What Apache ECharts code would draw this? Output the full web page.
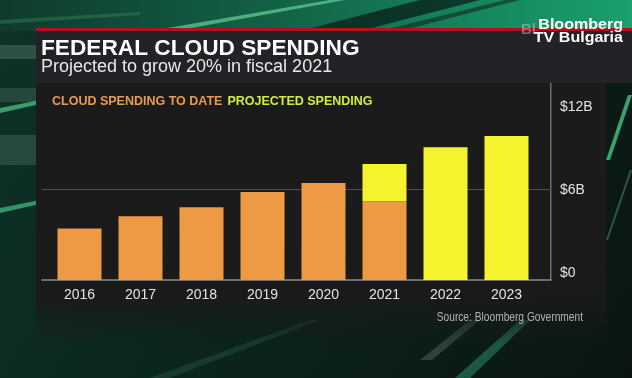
<!DOCTYPE html>
<html>
<head>
<meta charset="utf-8">
<script src="https://cdn.jsdelivr.net/npm/echarts@6/dist/echarts.min.js"></script>
<style>
html,body{margin:0;padding:0;background:#0c1f18;}
#chart{width:632px;height:378px;}
</style>
</head>
<body>
<div id="chart"></div>
<script>
// ---- data ----
var categories = ['2016', '2017', '2018', '2019', '2020', '2021', '2022', '2023'];
var spendingToDate = [3.4, 4.2, 4.8, 5.8, 6.4, 5.2, 0, 0];      // $B
var projectedSpending = [0, 0, 0, 0, 0, 2.45, 8.75, 9.5];        // $B (stacked on top)
var yTickValues = [0, 6, 12];
var yTickLabels = ['$0', '$6B', '$12B'];
var seriesNames = ['CLOUD SPENDING TO DATE', 'PROJECTED SPENDING'];
var titleText = 'FEDERAL CLOUD SPENDING';
var subtitleText = 'Projected to grow 20% in fiscal 2021';
var sourceText = 'Source: Bloomberg Government';

var ORANGE = '#EE9944';
var YELLOW = '#F3F42E';
var FONT = '"Liberation Sans", Arial, sans-serif';

var chart = echarts.init(document.getElementById('chart'), null, {renderer: 'canvas'});

function lin(x, y, x2, y2, stops) {
  return new echarts.graphic.LinearGradient(x, y, x2, y2, stops.map(function (s) { return {offset: s[0], color: s[1]}; }));
}

var bgGraphics = [
  // top green band
  {type: 'rect', z: -10, shape: {x: 0, y: 0, width: 632, height: 31},
   style: {fill: lin(0, 0, 1, 0, [[0, '#0f3a2c'], [0.45, '#136347'], [0.7, '#14805a'], [1, '#1aa06c']])}},
  // streaks in top band
  {type: 'polygon', z: -9, shape: {points: [[150, 31], [175, 31], [345, 0], [330, 0]]}, style: {fill: 'rgba(120,240,180,0.55)'}},
  {type: 'polygon', z: -9, shape: {points: [[300, 31], [360, 31], [480, 0], [420, 0]]}, style: {fill: 'rgba(10,30,25,0.75)'}},
  {type: 'polygon', z: -9, shape: {points: [[380, 31], [400, 31], [520, 0], [505, 0]]}, style: {fill: 'rgba(20,40,30,0.6)'}},
  {type: 'polygon', z: -9, shape: {points: [[0, 20], [140, 12], [140, 15], [0, 24]]}, style: {fill: 'rgba(60,150,110,0.35)'}},
  // left side streaks
  {type: 'rect', z: -9, shape: {x: 0, y: 45, width: 40, height: 14}, style: {fill: 'rgba(110,140,130,0.35)'}},
  {type: 'rect', z: -9, shape: {x: 0, y: 88, width: 40, height: 14}, style: {fill: 'rgba(90,130,115,0.3)'}},
  {type: 'polygon', z: -9, shape: {points: [[0, 108], [40, 100], [40, 104], [0, 113]]}, style: {fill: 'rgba(90,230,160,0.6)'}},
  {type: 'polygon', z: -9, shape: {points: [[0, 208], [40, 200], [40, 204], [0, 213]]}, style: {fill: 'rgba(90,230,160,0.55)'}},
  {type: 'rect', z: -9, shape: {x: 0, y: 135, width: 40, height: 30}, style: {fill: 'rgba(120,150,140,0.25)'}},
  // header band
  {type: 'rect', z: -8, shape: {x: 36, y: 28, width: 596, height: 3}, style: {fill: '#b3121c'}},
  {type: 'rect', z: -8, shape: {x: 36, y: 31, width: 596, height: 52}, style: {fill: '#232327'}},
  // chart panel
  {type: 'rect', z: -8, shape: {x: 36, y: 83, width: 570, height: 262},
   style: {fill: lin(0, 0, 0, 1, [[0, '#1b1b1b'], [0.8, '#1a1a1a'], [1, 'rgba(26,26,26,0)']])}},
  // right side streaks
  {type: 'polygon', z: -9, shape: {points: [[606, 160], [610, 160], [632, 95], [628, 95]]}, style: {fill: 'rgba(80,220,150,0.7)'}},
  {type: 'polygon', z: -9, shape: {points: [[606, 240], [608, 240], [632, 170], [630, 170]]}, style: {fill: 'rgba(120,200,170,0.35)'}},
  // bottom streaks
  {type: 'polygon', z: -9, shape: {points: [[150, 378], [170, 378], [320, 320], [310, 320]]}, style: {fill: 'rgba(80,160,120,0.18)'}},
  {type: 'polygon', z: -9, shape: {points: [[455, 378], [470, 378], [530, 320], [520, 320]]}, style: {fill: 'rgba(60,200,150,0.35)'}},
  {type: 'polygon', z: -9, shape: {points: [[420, 360], [432, 360], [480, 320], [470, 320]]}, style: {fill: 'rgba(150,170,160,0.25)'}}
];

var textGraphics = [
  {type: 'text', x: 41, y: 37.5, scaleX: 1.03,
   style: {text: titleText, x: 0, y: 0, verticalAlign: 'top', fill: '#ffffff', font: 'bold 22px ' + FONT}},
  {type: 'text', x: 41, y: 58.5, scaleX: 1.0,
   style: {text: subtitleText, x: 0, y: 0, verticalAlign: 'top', fill: '#e8e8e8', font: '18px ' + FONT}},
  {type: 'text', x: 521, y: 22,
   style: {text: 'Bl', x: 0, y: 0, verticalAlign: 'top', fill: 'rgba(215,200,200,0.45)', font: 'bold 15px ' + FONT}},
  {type: 'text', x: 623, y: 18, scaleX: 1.07,
   style: {text: 'Bloomberg\nTV Bulgaria', x: 0, y: 0, align: 'right', verticalAlign: 'top', lineHeight: 13,
           fill: '#ffffff', font: 'bold 15px ' + FONT}},
  {type: 'text', x: 583, y: 312, scaleX: 0.85,
   style: {text: sourceText, x: 0, y: 0, align: 'right', verticalAlign: 'top', fill: '#b4b4b4', font: '12px ' + FONT}},
  // frame right border
  {type: 'rect', shape: {x: 550, y: 83, width: 1.5, height: 197}, style: {fill: '#6e6e6e'}}
];

var option = {
  animation: false,
  backgroundColor: lin(0, 0, 1, 1, [[0, '#0e3328'], [0.5, '#0b241c'], [1, '#0a1511']]),
  graphic: bgGraphics.concat(textGraphics),
  legend: {
    left: 42, top: 90, icon: 'none', itemWidth: 0, itemGap: 0, selectedMode: false,
    textStyle: {fontSize: 12.5, fontWeight: 'bold', fontFamily: FONT},
    data: [
      {name: seriesNames[0], textStyle: {color: '#E89B4C'}},
      {name: seriesNames[1], textStyle: {color: '#D6EA3A'}}
    ]
  },
  grid: [
    {left: 49, width: 488, top: 98, bottom: 98},   // bars
    {left: 42, right: 81, top: 98, bottom: 98},    // gridline + baseline
    {left: 42, right: 81, top: 107, bottom: 105}   // y labels
  ],
  xAxis: [
    {gridIndex: 0, type: 'category', data: categories, axisLine: {show: false}, axisTick: {show: false},
     axisLabel: {color: '#e4e4e4', fontSize: 14, margin: 8, fontFamily: FONT}},
    {gridIndex: 1, type: 'category', data: categories, axisLine: {show: true, lineStyle: {color: '#8a8a8a', width: 1.5}},
     axisTick: {show: false}, axisLabel: {show: false}},
    {gridIndex: 2, type: 'category', data: categories, show: false}
  ],
  yAxis: [
    {gridIndex: 0, type: 'value', min: 0, max: 12, interval: 6, show: false},
    {gridIndex: 1, type: 'value', min: 0, max: 12, interval: 6, position: 'right',
     axisLine: {show: false}, axisTick: {show: false}, axisLabel: {show: false},
     splitLine: {show: true, lineStyle: {color: ['rgba(0,0,0,0)', '#505050', 'rgba(0,0,0,0)'], width: 1}}},
    {gridIndex: 2, type: 'value', min: 0, max: 12, interval: 6, position: 'right',
     axisLine: {show: false}, axisTick: {show: false}, splitLine: {show: false},
     axisLabel: {color: '#e4e4e4', fontSize: 14, margin: 9, align: 'left', fontFamily: FONT,
       formatter: function (v) { var i = yTickValues.indexOf(v); return i >= 0 ? yTickLabels[i] : ''; }}}
  ],
  series: [
    {name: seriesNames[0], type: 'bar', stack: 'total', xAxisIndex: 0, yAxisIndex: 0, barWidth: 44,
     itemStyle: {color: ORANGE}, data: spendingToDate},
    {name: seriesNames[1], type: 'bar', stack: 'total', xAxisIndex: 0, yAxisIndex: 0, barWidth: 44,
     itemStyle: {color: YELLOW}, data: projectedSpending}
  ]
};
chart.setOption(option);
</script>
</body>
</html>
